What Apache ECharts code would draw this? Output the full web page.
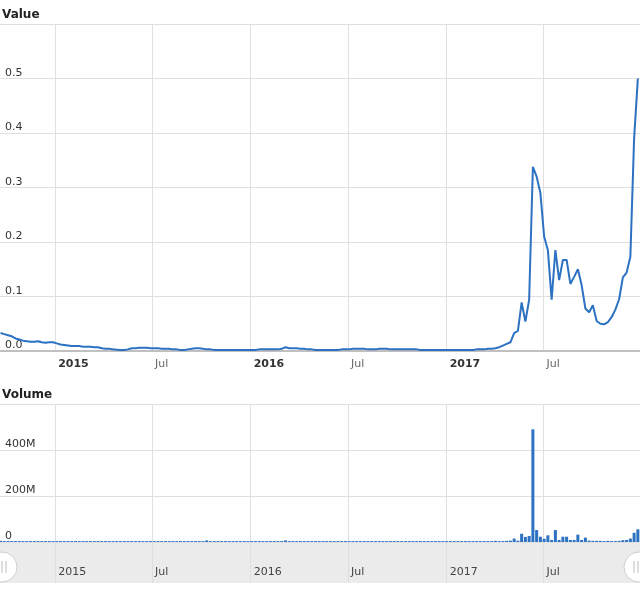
<!DOCTYPE html>
<html><head><meta charset="utf-8">
<script src="https://cdn.jsdelivr.net/npm/echarts@6/dist/echarts.min.js"></script>
<style>html,body{margin:0;padding:0;background:#fff}#c{width:640px;height:590px}</style>
</head><body><div id="c"></div>
<script>
// first weekly observation (local time)
const firstWeek = [2014, 8, 21];
const axisStartDay = [2014, 8, 20];
const axisEndDay = [2017, 11, 28];

// half-year tick dates [year, monthIndex]
const tickDates = [[2015, 0], [2015, 6], [2016, 0], [2016, 6], [2017, 0], [2017, 6]];

// weekly price (USD)
const priceValues = [
  0.033,0.031,0.029,0.027,0.023,0.021,0.019,0.018,0.017,0.017,
  0.018,0.016,0.015,0.016,0.016,0.014,0.012,0.011,0.010,0.009,
  0.009,0.009,0.008,0.008,0.008,0.007,0.007,0.005,0.004,0.004,
  0.003,0.0025,0.002,0.002,0.003,0.005,0.005,0.006,0.006,0.006,
  0.005,0.005,0.005,0.004,0.004,0.004,0.003,0.003,0.002,0.002,
  0.003,0.004,0.005,0.005,0.004,0.003,0.003,0.002,0.002,0.002,
  0.002,0.002,0.002,0.002,0.002,0.002,0.002,0.002,0.002,0.003,
  0.003,0.003,0.003,0.003,0.003,0.004,0.007,0.005,0.005,0.005,
  0.004,0.004,0.003,0.003,0.002,0.002,0.002,0.002,0.002,0.002,
  0.002,0.003,0.003,0.003,0.004,0.004,0.004,0.004,0.003,0.003,
  0.003,0.004,0.004,0.004,0.003,0.003,0.003,0.003,0.003,0.003,
  0.003,0.003,0.002,0.002,0.002,0.002,0.002,0.002,0.002,0.002,
  0.002,0.002,0.002,0.002,0.002,0.002,0.002,0.003,0.003,0.003,
  0.004,0.004,0.005,0.007,0.010,0.013,0.016,0.033,0.037,0.089,
  0.054,0.094,0.338,0.320,0.290,0.210,0.185,0.094,0.185,0.130,
  0.167,0.167,0.123,0.136,0.150,0.121,0.078,0.071,0.084,0.055,
  0.050,0.049,0.053,0.062,0.076,0.095,0.135,0.144,0.173,0.390,0.500
];

// weekly volume (millions)
const volumeMillions = [
  5,4,4,4,4,4,4,4,4,4,
  4,4,4,4,4,4,4,4,4,4,
  4,4,4,4,4,4,4,4,4,4,
  4,4,4,4,4,4,4,4,4,4,
  4,4,4,4,4,4,4,4,4,4,
  4,4,4,4,4,7,4,4,4,4,
  4,4,4,4,4,4,4,4,4,4,
  4,4,4,4,4,4,7,4,4,4,
  4,4,4,4,4,4,4,4,4,4,
  4,4,4,4,4,4,4,4,4,4,
  4,4,4,4,4,4,4,4,4,4,
  4,4,4,4,4,4,4,4,4,4,
  4,4,4,4,4,4,4,4,4,4,
  4,4,5,4,4,5,6,15,6,36,
  22,26,490,52,23,14,29,9,52,9,
  23,23,9,9,32,9,19,6,5,5,
  5,4,5,4,4,5,8,9,15,40,55
];

const valueTicks = [0, 0.1, 0.2, 0.3, 0.4, 0.5, 0.6];
const volumeTicks = [0, 200, 400, 600];

const WEEK = 7 * 864e5;
const t0 = new Date(firstWeek[0], firstWeek[1], firstWeek[2]).getTime();
const xMin = new Date(axisStartDay[0], axisStartDay[1], axisStartDay[2]).getTime();
const xMax = new Date(axisEndDay[0], axisEndDay[1], axisEndDay[2]).getTime();
const tickValues = tickDates.map(d => new Date(d[0], d[1], 1).getTime());
const priceData = priceValues.map((v, i) => [t0 + i * WEEK, v]);
const volumeData = volumeMillions.map((v, i) => [t0 + i * WEEK, v]);

const FONT = 'DejaVu Sans';
const BLUE = '#2d72c2';
const GRID = '#e0e0e0';

function dateLabel(rich) {
  return function (val) {
    const d = new Date(val);
    if (d.getMonth() === 0) return rich ? '{yr|' + d.getFullYear() + '}' : String(d.getFullYear());
    return rich ? '{mo|Jul}' : 'Jul';
  };
}

const timeAxisBase = {
  type: 'value', min: xMin, max: xMax, scale: true
};

const chart = echarts.init(document.getElementById('c'), null, { renderer: 'canvas' });
chart.setOption({
  animation: false,
  backgroundColor: '#fff',
  textStyle: { fontFamily: FONT },
  title: [
    { text: 'Value', left: -3, top: 4, textStyle: { fontFamily: FONT, fontSize: 12, fontWeight: 'bold', color: '#222' } },
    { text: 'Volume', left: -3, top: 384, textStyle: { fontFamily: FONT, fontSize: 12, fontWeight: 'bold', color: '#222' } }
  ],
  grid: [
    { left: 0, right: 0, top: 24, height: 327 },
    { left: 0, right: 0, top: 404, height: 138 },
    { left: 0, right: 0, top: 543, height: 40, show: true, backgroundColor: '#ebebeb', borderWidth: 0 }
  ],
  xAxis: [
    Object.assign({}, timeAxisBase, {
      gridIndex: 0,
      axisTick: { show: false, customValues: tickValues },
      axisLine: { show: true, onZero: false, lineStyle: { color: '#c0c0c0', width: 2 } },
      splitLine: { show: true, lineStyle: { color: GRID } },
      axisLabel: {
        customValues: tickValues,
        formatter: dateLabel(true), align: 'left', padding: [0, 0, 0, 3], margin: 8,
        fontFamily: FONT, fontSize: 11,
        rich: {
          yr: { fontWeight: 'bold', color: '#333', fontSize: 11, fontFamily: FONT },
          mo: { color: '#666', fontSize: 11, fontFamily: FONT }
        }
      }
    }),
    Object.assign({}, timeAxisBase, {
      gridIndex: 1,
      axisTick: { show: false, customValues: tickValues },
      axisLine: { show: false },
      splitLine: { show: true, lineStyle: { color: GRID } },
      axisLabel: { show: false, customValues: tickValues }
    }),
    Object.assign({}, timeAxisBase, {
      gridIndex: 2,
      axisTick: { show: false, customValues: tickValues },
      axisLine: { show: false },
      splitLine: { show: true, lineStyle: { color: '#dedede' } },
      axisLabel: {
        customValues: tickValues,
        inside: true, margin: 5, formatter: dateLabel(false), align: 'left', padding: [0, 0, 0, 3],
        color: '#444', fontFamily: FONT, fontSize: 11
      }
    })
  ],
  yAxis: [
    {
      gridIndex: 0, type: 'value', min: valueTicks[0], max: valueTicks[valueTicks.length - 1], interval: 0.1,
      axisLine: { show: false }, axisTick: { show: false },
      splitLine: { show: true, lineStyle: { color: GRID } },
      axisLabel: {
        inside: true, margin: 5, verticalAlign: 'bottom', padding: [0, 0, 0, 0],
        color: '#333', fontFamily: FONT, fontSize: 11,
        formatter: v => (v >= 0.6 - 1e-9 ? '' : v.toFixed(1))
      }
    },
    {
      gridIndex: 1, type: 'value', min: volumeTicks[0], max: volumeTicks[volumeTicks.length - 1], interval: 200,
      axisLine: { show: false }, axisTick: { show: false },
      splitLine: { show: true, lineStyle: { color: GRID } },
      axisLabel: {
        inside: true, margin: 5, verticalAlign: 'bottom', padding: [0, 0, 0, 0],
        color: '#333', fontFamily: FONT, fontSize: 11,
        formatter: v => (v === 0 ? '0' : v >= 600 ? '' : v + 'M')
      }
    },
    { gridIndex: 2, type: 'value', min: 0, max: 1, show: false }
  ],
  series: [
    {
      type: 'line', xAxisIndex: 0, yAxisIndex: 0, data: priceData,
      showSymbol: false, symbol: 'none', lineStyle: { color: BLUE, width: 2 }, itemStyle: { color: BLUE }
    },
    {
      type: 'bar', xAxisIndex: 1, yAxisIndex: 1, data: volumeData,
      barWidth: 3, itemStyle: { color: BLUE }
    },
    { type: 'line', xAxisIndex: 2, yAxisIndex: 2, data: [], showSymbol: false }
  ],
  graphic: [
    { type: 'circle', shape: { cx: 2, cy: 567, r: 15 }, style: { fill: '#fff', stroke: '#cfcfcf', lineWidth: 1 } },
    { type: 'line', shape: { x1: 2, y1: 561, x2: 2, y2: 573 }, style: { stroke: '#bbb', lineWidth: 1 } },
    { type: 'line', shape: { x1: 6, y1: 561, x2: 6, y2: 573 }, style: { stroke: '#bbb', lineWidth: 1 } },
    { type: 'circle', shape: { cx: 639, cy: 567, r: 15 }, style: { fill: '#fff', stroke: '#cfcfcf', lineWidth: 1 } },
    { type: 'line', shape: { x1: 634, y1: 561, x2: 634, y2: 573 }, style: { stroke: '#bbb', lineWidth: 1 } },
    { type: 'line', shape: { x1: 638, y1: 561, x2: 638, y2: 573 }, style: { stroke: '#bbb', lineWidth: 1 } }
  ]
});
</script>
</body></html>
